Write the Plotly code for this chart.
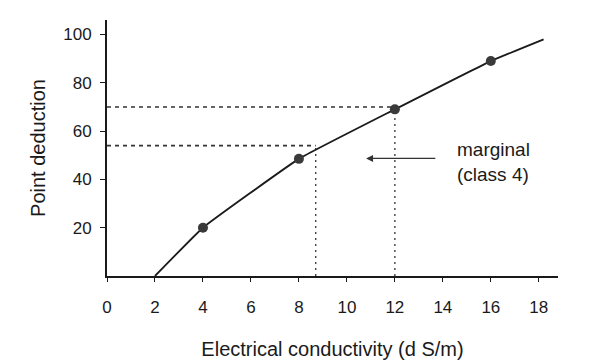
import plotly.graph_objects as go

# Data
curve_x = [2, 4, 8, 12, 16, 18.2]
curve_y = [0, 20, 48.5, 69, 89, 98]
point_x = [4, 8, 12, 16]
point_y = [20, 48.5, 69, 89]
ref_x = [8.7, 12]          # EC thresholds
ref_y = [54, 70]           # corresponding deductions
x_ticks = [0, 2, 4, 6, 8, 10, 12, 14, 16, 18]
y_ticks = [20, 40, 60, 80, 100]
label_text = "marginal<br>(class 4)"
label_pos = (16.1, 47)
arrow_tip = (10.8, 48.7)
arrow_tail = (13.75, 48.7)

FONT = "Liberation Sans, Arial, sans-serif"
INK = "#1a1a1a"

fig = go.Figure()

# dashed reference lines
for rx, ry in zip(ref_x, ref_y):
    fig.add_trace(go.Scatter(x=[0, rx], y=[ry, ry], mode="lines",
                             line=dict(color="#333", width=1.6, dash="4px,4px"),
                             hoverinfo="skip", showlegend=False))
    fig.add_trace(go.Scatter(x=[rx, rx], y=[0, ry], mode="lines",
                             line=dict(color="#444", width=1.4, dash="2px,4px"),
                             hoverinfo="skip", showlegend=False))

fig.add_trace(go.Scatter(x=curve_x, y=curve_y, mode="lines",
                         line=dict(color=INK, width=1.8, shape="spline", smoothing=0.3),
                         showlegend=False))
fig.add_trace(go.Scatter(x=point_x, y=point_y, mode="markers",
                         marker=dict(color="#3a3a3a", size=10, symbol="circle"),
                         showlegend=False))

fig.add_annotation(x=label_pos[0], y=label_pos[1], text=label_text, showarrow=False,
                   xref="x", yref="y", font=dict(family=FONT, size=19, color=INK),
                   align="left")
fig.add_annotation(x=arrow_tip[0], y=arrow_tip[1], ax=arrow_tail[0], ay=arrow_tail[1],
                   xref="x", yref="y", axref="x", ayref="y", text="", showarrow=True,
                   arrowhead=2, arrowsize=1, arrowwidth=1.4, arrowcolor="#333")

fig.update_layout(
    width=600, height=360,
    margin=dict(l=107, r=42, t=20, b=84),
    paper_bgcolor="white", plot_bgcolor="white",
    font=dict(family=FONT, color=INK),
    xaxis=dict(range=[0, 18.8], tickvals=x_ticks, ticktext=[str(v) for v in x_ticks],
               showgrid=False, zeroline=False, showline=True, linecolor=INK, linewidth=2,
               ticks="outside", ticklen=4, tickwidth=1, tickcolor=INK, automargin=False,
               tickfont=dict(size=17, family=FONT, color=INK), ticklabelstandoff=11,
               title=dict(text="Electrical conductivity (d S/m)", standoff=30,
                          font=dict(size=20, family=FONT, color=INK))),
    yaxis=dict(range=[0, 106], tickvals=y_ticks, ticktext=[str(v) for v in y_ticks],
               showgrid=False, zeroline=False, showline=True, linecolor=INK, linewidth=2,
               ticks="outside", ticklen=5, tickwidth=1, tickcolor=INK, automargin=False,
               tickfont=dict(size=17, family=FONT, color=INK), ticklabelstandoff=5,
               title=dict(text="Point deduction", standoff=12,
                          font=dict(size=20, family=FONT, color=INK))),
)

fig.write_html("out.html")
